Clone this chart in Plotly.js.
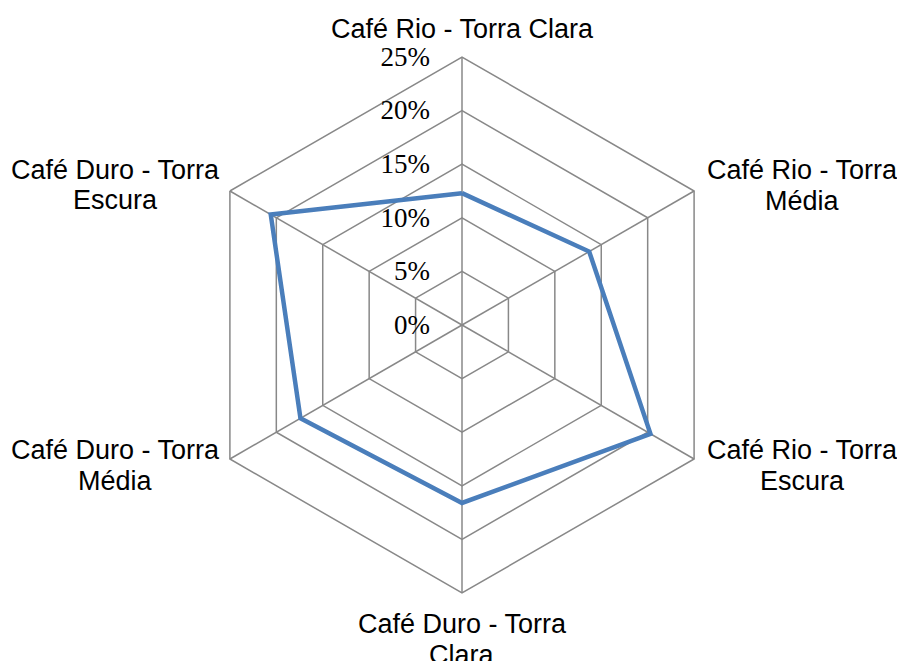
<!DOCTYPE html>
<html>
<head>
<meta charset="utf-8">
<script src="https://cdn.plot.ly/plotly-3.0.1.min.js"></script>
<style>html,body{margin:0;padding:0;background:#fff;}</style>
</head>
<body>
<div id="chart" style="width:897px;height:661px;"></div>
<script>
const categories = [
  "Café Rio - Torra Clara",
  "Café Rio - Torra Média",
  "Café Rio - Torra Escura",
  "Café Duro - Torra Clara",
  "Café Duro - Torra Média",
  "Café Duro - Torra Escura"
];
const categoryLines = [
  ["Café Rio - Torra Clara"],
  ["Café Rio - Torra", "Média"],
  ["Café Rio - Torra", "Escura"],
  ["Café Duro - Torra", "Clara"],
  ["Café Duro - Torra", "Média"],
  ["Café Duro - Torra", "Escura"]
];
const values = [12.3, 13.7, 20.3, 16.6, 17.4, 20.6];
const radialTicks = [0, 5, 10, 15, 20, 25];
const radialTickLabels = ["0%", "5%", "10%", "15%", "20%", "25%"];

const gridColor = "#888888";
const W = 897, H = 661;
const M = {l: 194, r: 167, t: 57, b: 68};
const plotW = W - M.l - M.r, plotH = H - M.t - M.b;

// label placement relative to each hexagon vertex (pixels): [dx of line centre, dy of first line centre]
const labelOffsets = [
  [0, -27.5],
  [108, -21],
  [108, -9],
  [0, 31],
  [-114, -9],
  [-114, -21]
];
const lineGap = 30.5;

const annotations = [];
categories.forEach((c, i) => {
  const ang = (90 - i * 60) * Math.PI / 180;
  const vx = M.l + plotW / 2 + (plotW / 2) * Math.cos(ang);
  const vy = M.t + plotH / 2 - (plotH / 2) * Math.sin(ang);
  categoryLines[i].forEach((line, j) => {
    const px = vx + labelOffsets[i][0];
    const py = vy + labelOffsets[i][1] + j * lineGap;
    annotations.push({
      xref: "paper", yref: "paper",
      x: (px - M.l) / plotW,
      y: 1 - (py - M.t) / plotH,
      xanchor: "center", yanchor: "middle",
      text: line, showarrow: false,
      font: {family: "Liberation Sans, Arial, sans-serif", size: 27, color: "#000"}
    });
  });
});

const trace = {
  type: "scatterpolar",
  mode: "lines",
  r: values.concat([values[0]]),
  theta: categories.concat([categories[0]]),
  line: {color: "#4a7ebb", width: 4.5},
  hoverinfo: "skip",
  showlegend: false
};

const layout = {
  width: W,
  height: H,
  margin: M,
  paper_bgcolor: "#fff",
  showlegend: false,
  annotations: annotations,
  polar: {
    bgcolor: "#fff",
    gridshape: "linear",
    angularaxis: {
      type: "category",
      categoryorder: "array",
      categoryarray: categories,
      rotation: 90,
      direction: "clockwise",
      showline: true,
      linecolor: gridColor,
      linewidth: 1.5,
      gridcolor: gridColor,
      gridwidth: 1.5,
      ticks: "",
      showticklabels: false
    },
    radialaxis: {
      range: [0, 25],
      tickvals: radialTicks,
      ticktext: radialTickLabels,
      angle: 90,
      side: "counterclockwise",
      showline: false,
      gridcolor: gridColor,
      gridwidth: 1.5,
      ticks: "outside",
      ticklen: 22,
      tickcolor: "rgba(0,0,0,0)",
      tickangle: 90,
      tickfont: {family: "Liberation Serif, Times New Roman, serif", size: 27, color: "#000"}
    }
  }
};

Plotly.newPlot("chart", [trace], layout, {displayModeBar: false, staticPlot: true});
</script>
</body>
</html>
